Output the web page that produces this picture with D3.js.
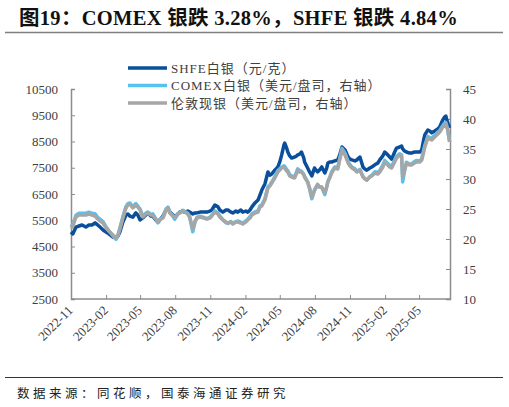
<!DOCTYPE html>
<html>
<head>
<meta charset="utf-8">
<script src="https://cdn.jsdelivr.net/npm/d3@7"></script>
<style>
  body { margin: 0; background: #fff; }
  svg { display: block; }
  text { font-family: "Liberation Serif", "Noto Sans CJK SC", serif; }
</style>
</head>
<body>
<svg id="chart" width="509" height="407"></svg>
<script>
// weekly-ish readings
const dates = [
  "2022-11-01","2022-11-06","2022-11-14","2022-11-22","2022-11-30","2022-12-10","2022-12-18","2022-12-26",
  "2023-01-03","2023-01-10","2023-01-16","2023-01-24","2023-02-01","2023-02-08","2023-02-19","2023-02-27",
  "2023-03-04","2023-03-09","2023-03-17","2023-03-25","2023-03-30","2023-04-04","2023-04-12","2023-04-20",
  "2023-04-25","2023-05-01","2023-05-08","2023-05-16","2023-05-21","2023-05-29","2023-06-03","2023-06-11",
  "2023-06-17","2023-06-24","2023-06-30","2023-07-08","2023-07-13","2023-07-18","2023-07-26","2023-07-31",
  "2023-08-08","2023-08-13","2023-08-21","2023-08-26","2023-09-03","2023-09-08","2023-09-16","2023-09-22",
  "2023-09-27","2023-10-05","2023-10-15","2023-10-23","2023-10-31","2023-11-05","2023-11-13","2023-11-21",
  "2023-11-26","2023-12-04","2023-12-12","2023-12-17","2023-12-25","2023-12-30","2024-01-07","2024-01-12",
  "2024-01-20","2024-01-25","2024-02-02","2024-02-07","2024-02-13","2024-02-18","2024-02-26","2024-03-05",
  "2024-03-10","2024-03-15","2024-03-23","2024-03-31","2024-04-05","2024-04-10","2024-04-18","2024-04-26",
  "2024-05-01","2024-05-06","2024-05-12","2024-05-14","2024-05-19","2024-05-22","2024-05-27","2024-06-01",
  "2024-06-09","2024-06-14","2024-06-17","2024-06-22","2024-06-27","2024-07-03","2024-07-05","2024-07-13",
  "2024-07-18","2024-07-24","2024-07-29","2024-07-31","2024-08-08","2024-08-13","2024-08-19","2024-08-27",
  "2024-09-01","2024-09-04","2024-09-09","2024-09-14","2024-09-22","2024-09-30","2024-10-05","2024-10-11",
  "2024-10-19","2024-10-27","2024-11-01","2024-11-06","2024-11-14","2024-11-19","2024-11-27","2024-12-05",
  "2024-12-10","2024-12-15","2024-12-23","2024-12-28","2025-01-05","2025-01-13","2025-01-18","2025-01-26",
  "2025-01-31","2025-02-08","2025-02-13","2025-02-18","2025-02-26","2025-03-03","2025-03-11","2025-03-16",
  "2025-03-19","2025-03-24","2025-03-29","2025-04-06","2025-04-11","2025-04-19","2025-04-24","2025-05-03",
  "2025-05-08","2025-05-13","2025-05-16","2025-05-24","2025-05-29","2025-06-03","2025-06-11","2025-06-19",
  "2025-06-24","2025-07-02","2025-07-07","2025-07-10","2025-07-15","2025-07-18","2025-07-20"
];

// SHFE silver (left axis)
const shfe = [
  5050,4980,5240,5280,5320,5240,5320,5320, 5400,5320,5240,5130,5050,4980,4860,4820,
  4900,5050,5430,5700,5740,5660,5620,5780, 5700,5510,5590,5700,5780,5660,5660,5510,
  5430,5550,5660,5890,5970,5810,5700,5620, 5740,5810,5850,5810,5850,5810,5740,5780,
  5780,5810,5810,5810,5850,5890,6080,6010, 5890,5810,5890,5890,5810,5780,5850,5810,
  5890,5810,5850,5810,5890,6010,6160,6270, 6460,6650,6880,7340,7220,7260,7410,7530,
  7720,7990,8370,8440,8250,8100,7950,7870, 7910,7950,7990,8020,8100,7870,7720,7490,
  7340,7190,7410,7490,7340,7410,7530,7300, 7490,7680,7720,7720,7760,7800,7990,8290,
  8180,7910,7830,7800,7760,7800,7910,7530, 7450,7410,7490,7530,7610,7680,7800,7950,
  8100,7990,7910,7830,8100,8250,8290,8330, 8220,8140,8100,8060,8060,8100,8100,8100,
  8180,8560,8750,8940,8900,8830,8900,8980, 9050,9320,9430,9470,9210,9090,9020
];

// COMEX silver (right axis)
const comex = [
  22.1,22.4,23.95,24.3,24.3,24.3,24.45,24.3, 24.2,23.6,23.3,22.9,22.0,21.4,20.5,19.95,
  20.6,21.8,23.7,25.4,25.9,26.0,25.4,25.9, 25.5,25.0,23.8,24.3,24.5,24.1,24.2,23.4,
  22.7,23.4,23.6,25.0,25.3,24.4,23.8,23.3, 24.2,24.4,24.8,24.6,24.3,23.6,21.2,22.8,
  23.6,23.8,23.6,23.4,23.6,24.0,24.7,24.3, 23.8,23.2,22.7,22.6,22.9,22.6,22.9,23.0,
  22.8,22.6,23.0,23.3,23.7,24.2,24.5,24.7, 25.5,25.7,26.7,28.7,29.0,29.5,30.4,31.4,
  31.7,32.0,32.2,32.1,31.6,31.4,30.7,30.5, 30.3,31.2,31.7,31.4,31.3,30.8,30.4,29.5,
  28.4,26.7,27.7,28.1,29.1,28.7,28.6,27.4, 28.7,29.6,30.3,31.2,32.0,31.9,33.4,35.1,
  34.3,32.9,32.4,32.0,31.7,31.3,31.6,30.4, 30.1,29.8,30.4,30.6,31.2,31.1,31.4,32.3,
  33.1,32.6,32.3,32.1,33.1,33.8,34.2,34.0, 29.5,31.3,32.8,32.5,32.5,32.9,33.1,33.0,
  33.4,34.8,35.6,37.1,36.9,36.8,37.3,37.8, 38.1,38.9,39.3,39.4,38.3,37.0,36.2
];

// London spot silver (right axis)
const london = [
  21.83,22.17,23.67,24.0,24.0,24.0,24.17,24.0, 23.83,23.33,23.0,22.67,21.83,21.33,20.67,20.17,
  20.67,21.67,23.5,25.17,25.67,25.83,25.17,25.67, 25.33,24.83,23.67,24.17,24.33,24.0,24.0,23.33,
  22.83,23.33,23.5,24.83,25.17,24.33,23.83,23.5, 24.17,24.33,24.67,24.5,24.17,23.67,21.67,23.0,
  23.5,23.67,23.5,23.33,23.5,23.83,24.5,24.17, 23.67,23.17,22.83,22.67,22.83,22.5,22.83,22.83,
  22.67,22.5,22.83,23.17,23.5,24.0,24.33,24.5, 25.33,25.5,26.5,28.5,28.83,29.33,30.17,31.17,
  31.5,31.83,32.0,31.83,31.33,31.17,30.5,30.33, 30.17,31.0,31.5,31.17,31.17,30.67,30.33,29.5,
  28.5,27.0,27.83,28.17,29.0,28.67,28.67,27.67, 28.67,29.5,30.17,31.0,31.83,31.67,33.17,34.83,
  34.0,32.67,32.17,31.83,31.5,31.17,31.5,30.33, 30.0,29.83,30.33,30.5,31.0,30.83,31.17,32.0,
  32.83,32.33,32.0,31.83,32.83,33.5,34.0,33.83, 30.33,31.5,32.67,32.33,32.33,32.67,32.83,32.83,
  33.17,34.5,35.33,36.83,36.67,36.5,37.0,37.5, 37.83,38.67,39.0,39.17,38.17,37.0,36.17
];

const leftTicks = [2500, 3500, 4500, 5500, 6500, 7500, 8500, 9500, 10500];
const rightTicks = [10, 15, 20, 25, 30, 35, 40, 45];
const xTickLabels = ["2022-11","2023-02","2023-05","2023-08","2023-11","2024-02",
                     "2024-05","2024-08","2024-11","2025-02","2025-05"];
const seriesNames = ["SHFE白银（元/克）", "COMEX白银（美元/盘司，右轴）", "伦敦现银（美元/盘司，右轴）"];
const seriesColors = ["#0b4f9c", "#55c2f0", "#a6a6a6"];

const svg = d3.select("#chart");
const parse = d3.utcParse("%Y-%m-%d");
const parseMonth = d3.utcParse("%Y-%m");
const axisColor = "#8c8c8c";
const labelColor = "#404040";
const serif = "'Liberation Serif', 'Noto Sans CJK SC', serif";

const plot = {left: 71, right: 450, top: 89, bottom: 299};

const x = d3.scaleUtc()
  .domain([parse("2022-11-01"), parse("2025-07-21")])
  .range([plot.left, plot.right]);
const yL = d3.scaleLinear().domain([2500, 10500]).range([plot.bottom, plot.top]);
const yR = d3.scaleLinear().domain([10, 45]).range([plot.bottom, plot.top]);

// title + rules
svg.append("text")
  .attr("x", 19).attr("y", 25)
  .attr("font-family", serif)
  .attr("font-size", 20.5).attr("font-weight", "bold").attr("fill", "#111")
  .attr("letter-spacing", 0.3)
  .text("图19：COMEX 银跌 3.28%，SHFE 银跌 4.84%");
svg.append("line").attr("x1", 5).attr("x2", 503).attr("y1", 32.5).attr("y2", 32.5)
  .attr("stroke", "#808080").attr("stroke-width", 1.5);
svg.append("line").attr("x1", 5).attr("x2", 503).attr("y1", 377.5).attr("y2", 377.5)
  .attr("stroke", "#333").attr("stroke-width", 1);
svg.append("text")
  .attr("x", 17).attr("y", 398)
  .attr("font-size", 12.5).attr("fill", "#222").attr("letter-spacing", 3.5)
  .text("数据来源：同花顺，国泰海通证券研究");

// axes
const styleAxis = g => {
  g.select(".domain").attr("stroke", axisColor).attr("stroke-width", 1.5);
  g.selectAll(".tick line").attr("stroke", axisColor).attr("stroke-width", 1);
  g.selectAll(".tick text").attr("fill", labelColor).attr("font-size", 13)
    .attr("font-family", serif);
};

svg.append("g")
  .attr("transform", `translate(${plot.left},0)`)
  .call(d3.axisLeft(yL).tickValues(leftTicks).tickFormat(d3.format("d"))
    .tickSizeInner(-4).tickSizeOuter(-4).tickPadding(13))
  .call(styleAxis);

svg.append("g")
  .attr("transform", `translate(${plot.right},0)`)
  .call(d3.axisRight(yR).tickValues(rightTicks).tickFormat(d3.format("d"))
    .tickSizeInner(-4).tickSizeOuter(-4).tickPadding(13))
  .call(styleAxis);

const xAxis = svg.append("g")
  .attr("transform", `translate(0,${plot.bottom})`)
  .call(d3.axisBottom(x).tickValues(xTickLabels.map(parseMonth))
    .tickFormat(d3.utcFormat("%Y-%m")).tickSizeInner(-4).tickSizeOuter(0).tickPadding(6))
  .call(styleAxis);
xAxis.select(".domain").attr("d", `M${plot.left},0H${plot.right}`);
xAxis.selectAll(".tick text")
  .attr("text-anchor", "end")
  .attr("dy", "0.35em")
  .attr("transform", "translate(-1,9) rotate(-45)")
  .attr("y", 0).attr("x", 0);

// lines
const rows = dates.map((d, i) => ({date: parse(d), shfe: shfe[i], comex: comex[i], london: london[i]}));
const lineL = d3.line().x(d => x(d.date)).y(d => yL(d.shfe));
const lineC = d3.line().x(d => x(d.date)).y(d => yR(d.comex));
const lineG = d3.line().x(d => x(d.date)).y(d => yR(d.london));

[[lineL, 0], [lineC, 1], [lineG, 2]].forEach(([gen, i]) => {
  svg.append("path").datum(rows).attr("d", gen)
    .attr("fill", "none").attr("stroke", seriesColors[i])
    .attr("stroke-width", 3.5).attr("stroke-linejoin", "round");
});

// legend
const legend = svg.append("g").attr("transform", "translate(128,68)");
seriesNames.forEach((name, i) => {
  const g = legend.append("g").attr("transform", `translate(0,${i * 17.5})`);
  g.append("line").attr("x1", 0).attr("x2", 39).attr("y1", 0).attr("y2", 0)
    .attr("stroke", seriesColors[i]).attr("stroke-width", 3.5);
  g.append("text").attr("x", 43).attr("y", 0).attr("dy", "0.36em")
    .attr("font-family", serif).attr("letter-spacing", 1)
    .attr("font-size", 13).attr("fill", labelColor).text(name);
});
</script>
</body>
</html>
